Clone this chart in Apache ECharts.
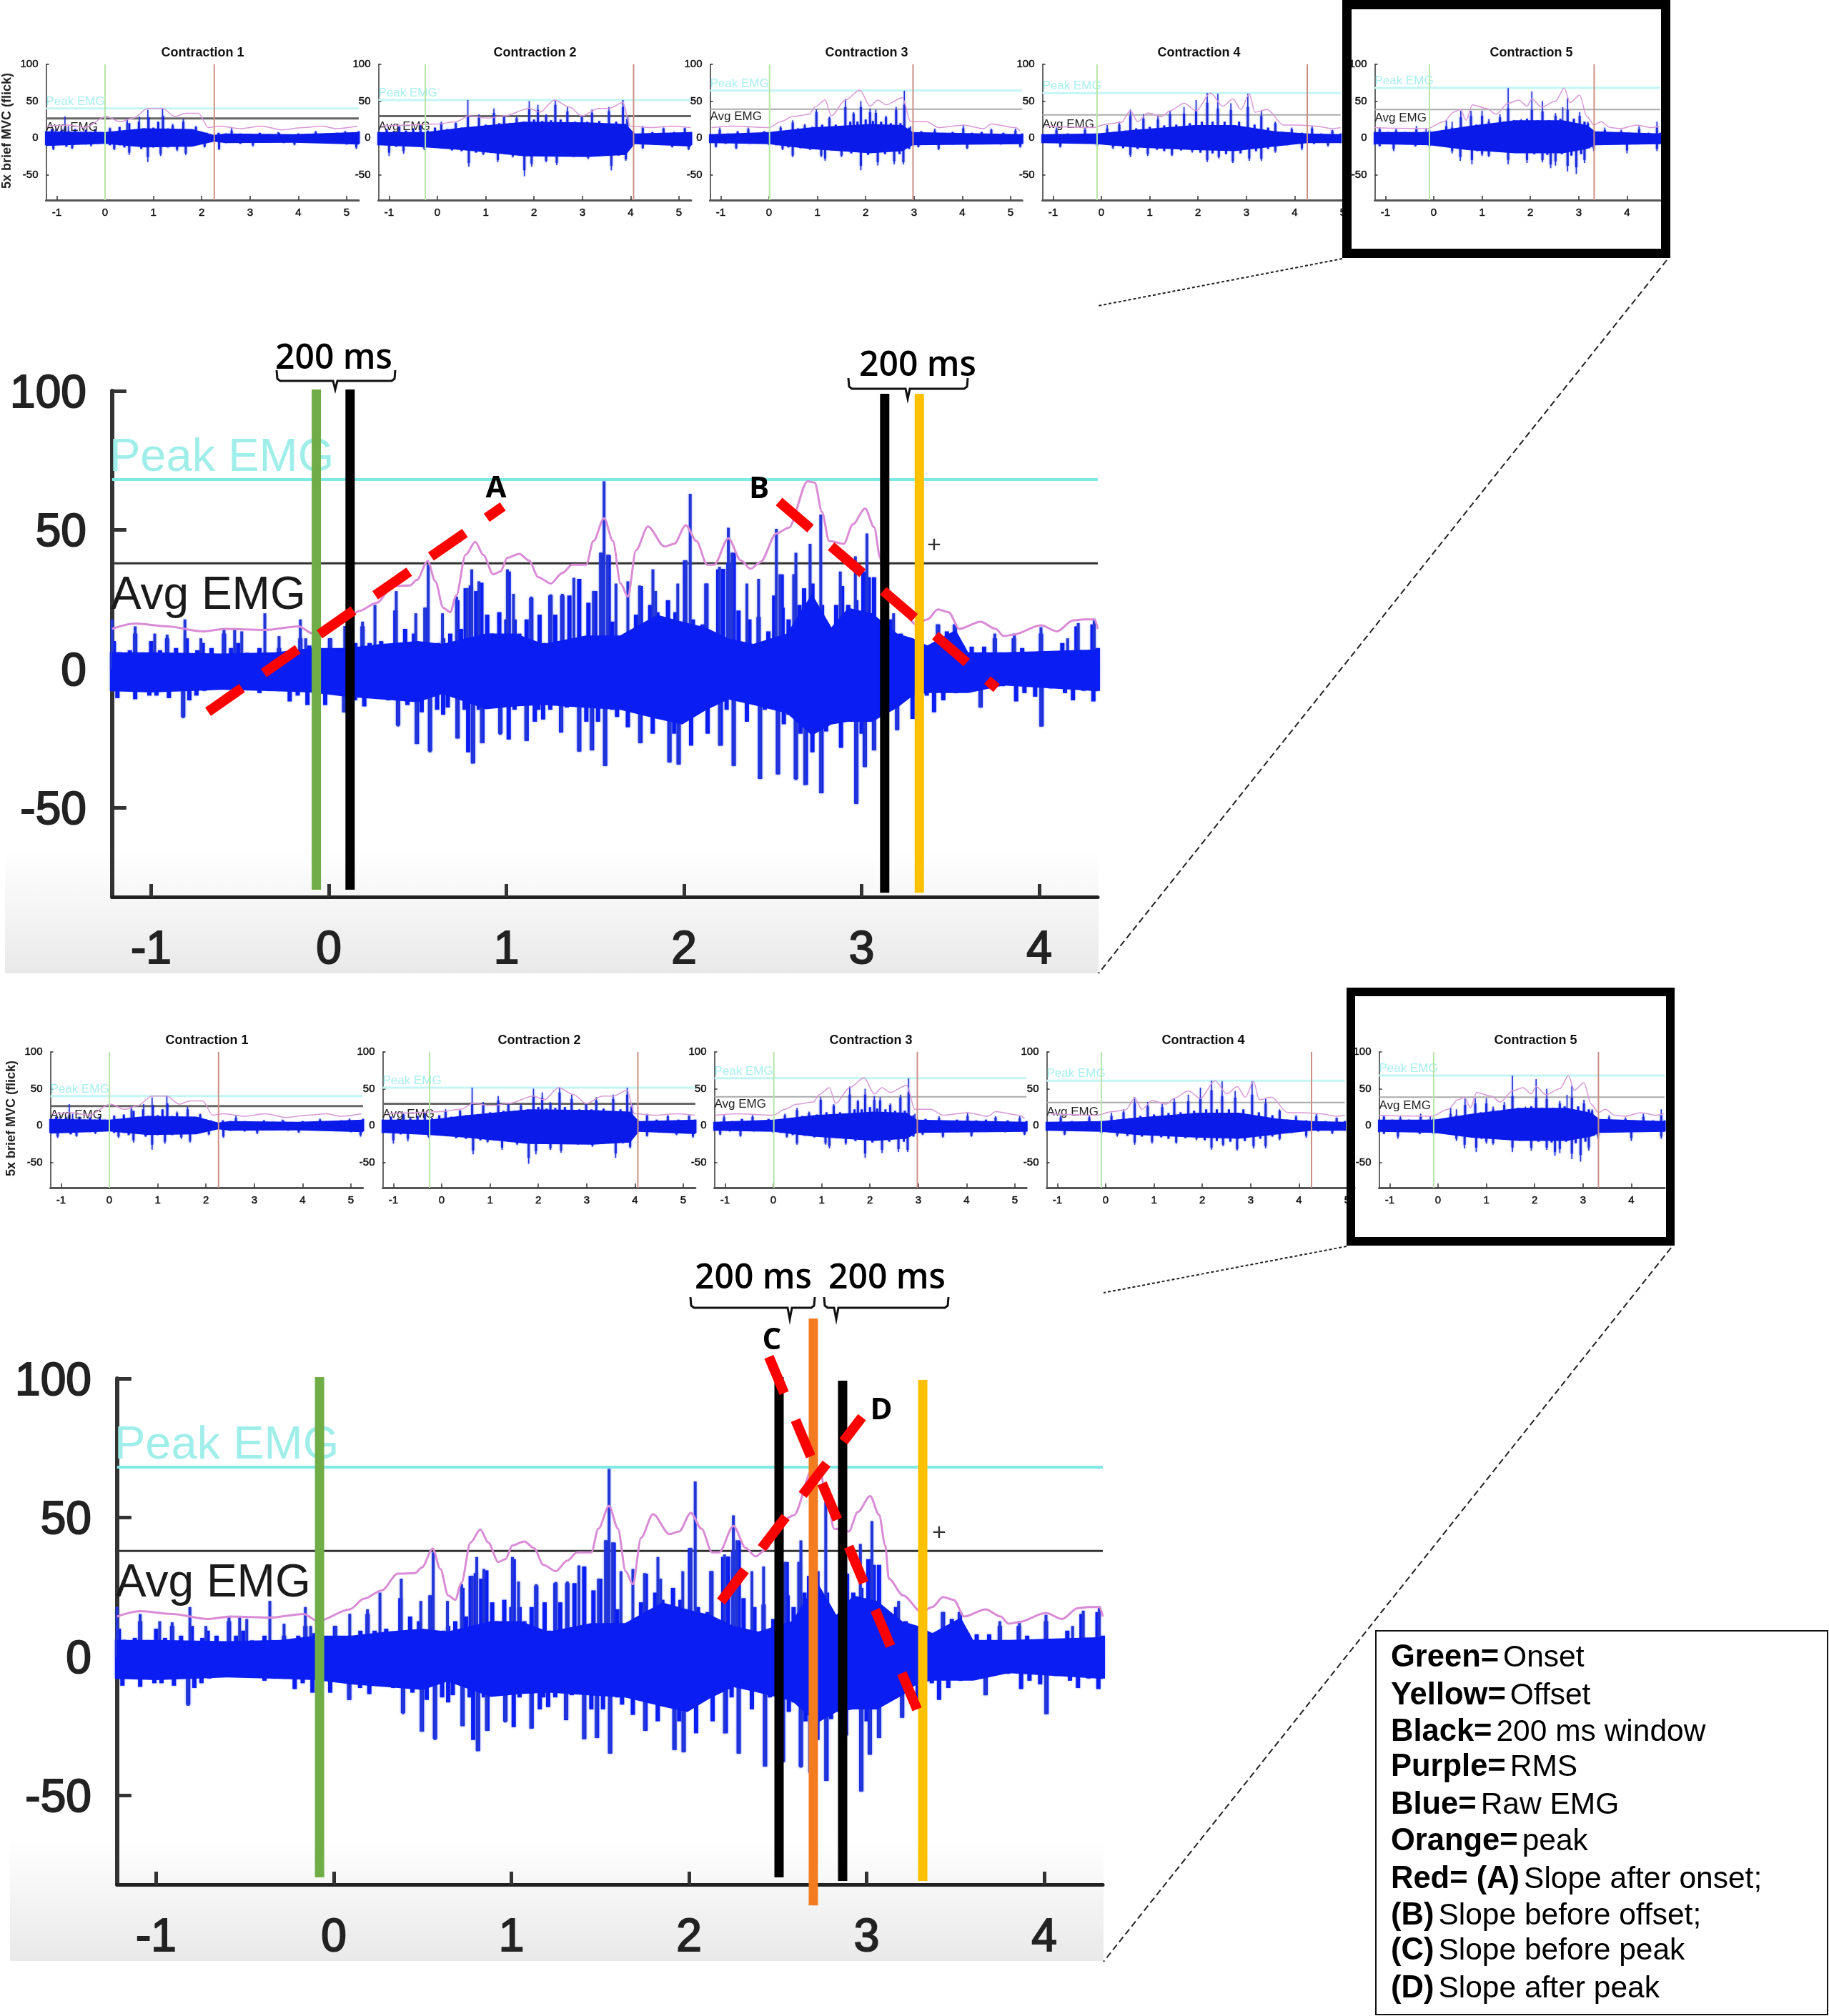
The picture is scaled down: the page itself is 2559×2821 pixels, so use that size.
<!DOCTYPE html>
<html lang="en">
<head>
<meta charset="UTF-8">
<title>Contraction EMG</title>
<script src="https://cdn.jsdelivr.net/npm/echarts@6/dist/echarts.min.js"></script>
<style>
  html, body { margin: 0; padding: 0; background: #fff; }
  #chart { width: 2559px; height: 2821px; }
</style>
</head>
<body>
<div id="chart"></div>
<script>
// ---- data: [seconds, %MVC] ----
var contractionTitles = ['Contraction 1', 'Contraction 2', 'Contraction 3', 'Contraction 4', 'Contraction 5'];
var xTicksSmall = [[-1,0,1,2,3,4,5],[-1,0,1,2,3,4,5],[-1,0,1,2,3,4,5],[-1,0,1,2,3,4,5],[-1,0,1,2,3,4]];
var xTicksBig = [-1,0,1,2,3,4];
var yTicks = [100,50,0,-50];
var smallXMax = [5.25,5.25,5.24,5.15,4.69];
var smallOnset = [0,-0.25,0.01,-0.09,-0.09];
var smallOffset = [2.26,4.06,2.98,4.26,3.32];
var smallPeak = [40,51.5,64.4,61,68];
var smallAvg = [26.5,29.5,39,31.4,38.5];

// Core = solid band [t, top, bottom]; Top / Bot / Up / Lo = bursts of the raw trace; Rms = purple line
var c1Core = [[-1.22,9,-11],[0,8,-8],[0.8,13,-13],[1.8,12,-12],[2.25,4,-5],[2.5,6,-7],[3.9,5,-6.5],[5.25,8,-9]];
var c1Top = [[-1.22,9],[-1.1,12],[-1,8],[-0.9,11],[-0.83,14],[-0.75,9],[-0.62,12],[-0.5,8],[-0.4,11],[-0.3,8],[-0.2,12],[-0.1,8],[0,6],[0.1,13],[0.2,8],[0.3,15],[0.4,10],[0.5,20],[0.6,11],[0.7,22],[0.8,13],[0.9,28],[1,14],[1.1,22],[1.2,30],[1.3,13],[1.4,17],[1.5,11],[1.62,22],[1.75,10],[1.88,15],[2,8],[2.1,7],[2.25,3],[2.35,7],[2.5,6],[2.62,10],[2.8,6],[3,5],[3.2,7],[3.4,5],[3.6,7],[3.8,4],[4,6],[4.2,5],[4.36,8],[4.6,5],[4.8,7],[4.97,8],[5.1,6],[5.25,9]];
var c1Bot = [[-1.22,-10],[-1.07,-15],[-0.95,-9],[-0.8,-12],[-0.68,-14],[-0.55,-8],[-0.4,-9],[-0.29,-10],[-0.15,-8],[0,-6],[0.1,-10],[0.19,-15],[0.3,-10],[0.4,-13],[0.5,-20],[0.6,-11],[0.75,-15],[0.885,-26],[1,-13],[1.15,-22],[1.3,-13],[1.49,-16],[1.67,-21],[1.8,-11],[2.06,-12],[2.2,-5],[2.36,-15],[2.5,-7],[2.8,-8],[3.06,-10],[3.4,-6],[3.7,-7],[3.92,-9],[4.3,-6],[4.7,-7],[5,-9],[5.2,-13],[5.25,-8]];
var c1Up = [[-1.02,12.6],[-0.83,29],[-0.76,16],[0.1,14],[0.45,22],[0.46,26],[0.71,29],[0.885,38],[1.19,40],[1.4,19],[1.62,25.6],[1.88,16],[2.62,14],[3.58,8],[4.36,9.4],[4.97,9.4]];
var c1Lo = [[-1.07,-16.5],[-0.68,-15],[-0.29,-11.6],[0.19,-16.5],[0.5,-23],[0.885,-32.7],[1.15,-24.6],[1.49,-18],[1.67,-23],[2.06,-13],[2.36,-16.5],[3.06,-11.6],[3.92,-10],[5.2,-15]];
var c1Rms = [[-1.2,16],[-0.76,17.5],[-0.42,14],[0.02,29],[0.32,22],[0.58,27],[0.885,40],[1.19,40],[1.45,29],[1.67,33.6],[1.93,33.6],[2.14,14],[2.36,16],[2.8,12.6],[3.23,16],[3.66,11],[4.1,14],[4.49,16],[4.79,12.6],[5.22,16]];

var c2Core = [[-1.22,8,-10],[-0.25,8,-13],[0.51,14,-16.5],[1.82,22,-25],[3.12,21,-26],[3.9,19,-23],[4.08,6,-8.5],[5.25,8,-11.6]];
var c2Top = [[-1.22,8],[-1.05,12],[-0.9,9],[-0.79,15],[-0.65,10],[-0.5,13],[-0.35,16],[-0.2,10],[-0.05,14],[0.08,20],[0.2,12],[0.38,20],[0.5,14],[0.63,30],[0.75,15],[0.86,28],[1,18],[1.17,34],[1.28,20],[1.38,28],[1.5,20],[1.64,27],[1.78,22],[1.9,40],[2,25],[2.08,38],[2.17,23],[2.25,30],[2.35,24],[2.44,45],[2.55,25],[2.69,36],[2.85,22],[2.99,28],[3.1,22],[3.2,34],[3.35,23],[3.55,36],[3.7,22],[3.84,42],[3.93,26],[4.05,8],[4.25,14],[4.45,8],[4.68,13],[4.9,8],[5.12,13],[5.25,8]];
var c2Bot = [[-1.22,-10],[-1,-20],[-0.85,-12],[-0.7,-18],[-0.5,-11],[-0.27,-15],[-0.1,-11],[0.1,-14],[0.3,-17],[0.5,-18],[0.65,-34],[0.8,-20],[0.95,-22],[1.1,-20],[1.25,-30],[1.4,-22],[1.56,-25],[1.7,-24],[1.8,-44],[1.88,-24],[1.95,-35],[2.1,-24],[2.25,-31],[2.35,-24],[2.47,-34],[2.65,-23],[2.82,-25],[3,-22],[3.12,-27],[3.35,-24],[3.6,-38],[3.75,-24],[3.9,-29],[4.05,-9],[4.25,-14],[4.5,-9],[4.86,-12],[5.05,-9],[5.2,-15],[5.25,-10]];
var c2Up = [[-0.79,16],[-0.35,17.5],[0.08,22],[0.38,21],[0.63,51.5],[0.86,32],[1.17,40],[1.38,30],[1.64,29],[1.9,50],[2.08,45],[2.25,32],[2.44,51.5],[2.69,42],[2.99,30],[3.2,38.5],[3.55,42],[3.84,51.5],[3.94,29],[4.25,16],[4.68,14],[5.12,14]];
var c2Lo = [[-1,-24.6],[-0.7,-21.5],[-0.27,-16.5],[0.65,-39],[0.95,-23],[1.25,-33],[1.56,-26.5],[1.8,-52],[1.95,-39],[2.25,-33],[2.47,-37],[2.82,-26],[3.12,-29],[3.6,-44],[3.9,-31],[4.25,-15],[4.86,-13],[5.2,-16.5]];
var c2Rms = [[-1.13,16],[-0.61,17.5],[0,19],[0.39,22],[0.65,30],[1.04,27],[1.38,30],[1.9,40],[2.12,35],[2.42,51.5],[2.73,42],[2.99,30],[3.34,40],[3.55,40],[3.84,48],[3.99,16],[4.42,14],[4.86,16],[5.24,14]];

var c3Core = [[-1.22,5,-7],[0,8,-8.5],[0.83,14,-15],[2.09,19,-21],[2.76,17.5,-18],[2.97,8,-10],[5.24,5,-8.5]];
var c3Top = [[-1.22,5],[-1.02,11],[-0.85,6],[-0.65,9],[-0.43,12],[-0.25,6],[-0.1,9],[0,6],[0.12,8],[0.24,14],[0.36,10],[0.49,21],[0.6,13],[0.74,17],[0.9,15],[0.98,35],[1.1,18],[1.25,27],[1.38,18],[1.58,42],[1.68,22],[1.75,33],[1.83,22],[1.9,42],[2,25],[2.09,35],[2.15,23],[2.21,34],[2.32,22],[2.42,28],[2.52,20],[2.63,38],[2.72,20],[2.8,45],[2.9,14],[2.98,7],[3.15,9],[3.43,10],[3.6,6],[3.8,8],[4.02,13],[4.2,7],[4.4,8],[4.6,11],[4.85,7],[5.1,10],[5.24,6]];
var c3Bot = [[-1.22,-7],[-1.1,-12],[-0.9,-8],[-0.68,-14],[-0.4,-8],[0,-9],[0.15,-10],[0.28,-15],[0.4,-13],[0.49,-24],[0.65,-14],[0.85,-16],[1.08,-24],[1.16,-28],[1.3,-17],[1.5,-24],[1.7,-21],[1.9,-38],[2.05,-23],[2.25,-33],[2.4,-22],[2.59,-32],[2.7,-22],[2.78,-33],[2.9,-15],[2.98,-10],[3.09,-12],[3.3,-8],[3.51,-15],[3.8,-9],[4.1,-14],[4.4,-8],[4.8,-9],[5.2,-12],[5.24,-8]];
var c3Up = [[-1.02,14],[-0.43,14],[0.24,16],[0.49,24],[0.74,19],[0.98,38.5],[1.25,29],[1.58,53],[1.75,35],[1.9,50],[2.09,40],[2.21,38.5],[2.42,30],[2.63,42],[2.8,64],[2.93,16],[3.43,12.6],[4.02,17.5],[4.6,12.6],[5.1,12.6]];
var c3Lo = [[-1.1,-13],[-0.68,-15],[0,-10],[0.28,-16.5],[0.49,-26],[1.08,-26],[1.16,-31],[1.5,-26],[1.9,-44],[2.25,-37.5],[2.59,-36],[2.78,-36],[3.09,-13],[3.51,-16.5],[4.1,-15],[5.2,-13]];
var c3Rms = [[-1.19,14],[-0.77,16],[0,14],[0.24,22],[0.49,29],[0.83,32],[0.95,42],[1.16,51.5],[1.29,30],[1.58,51.5],[1.88,65],[2.09,43],[2.25,51.5],[2.42,45],[2.76,54.7],[2.93,22],[3.26,22],[3.51,14],[4.02,17.5],[4.44,12.6],[4.6,19],[5.1,14],[5.2,9]];

var c4Core = [[-1.22,5,-7],[-0.09,6,-8.5],[0.66,11,-13],[1.92,17.5,-16.5],[2.76,17.5,-18],[3.6,9,-11.6],[4.27,6,-7],[4.95,5,-7]];
var c4Top = [[-1.22,5],[-0.93,11],[-0.7,6],[-0.34,11],[-0.1,6],[0.12,13],[0.25,8],[0.37,18],[0.5,10],[0.6,30],[0.72,13],[0.87,26],[1,15],[1.17,25],[1.3,17],[1.42,32],[1.55,18],[1.71,33],[1.83,20],[1.96,37],[2.08,22],[2.19,48],[2.3,22],[2.41,40],[2.55,22],[2.68,38],[2.85,22],[3.03,42],[3.17,18],[3.31,30],[3.45,14],[3.6,20],[3.75,8],[3.94,12],[4.15,7],[4.36,13],[4.55,6],[4.78,10],[4.95,6]];
var c4Bot = [[-1.22,-7],[-0.85,-12],[-0.6,-7],[-0.09,-10],[0.1,-9],[0.24,-13],[0.45,-14],[0.6,-23],[0.75,-15],[0.96,-22],[1.15,-16],[1.3,-18],[1.46,-23],[1.65,-17],[1.88,-18],[2.05,-20],[2.19,-30],[2.3,-21],[2.43,-26],[2.58,-22],[2.72,-32],[2.88,-21],[3.06,-28],[3.2,-18],[3.31,-28],[3.45,-15],[3.6,-18],[3.85,-10],[4.15,-14],[4.4,-8],[4.69,-10],[4.95,-7]];
var c4Up = [[-0.93,14],[-0.34,14],[0.12,17.5],[0.37,22],[0.6,38.5],[0.87,32],[1.17,30],[1.42,37],[1.71,42],[1.96,51.5],[2.19,61],[2.41,60],[2.68,47],[3.03,60],[3.31,37],[3.6,22],[3.94,14],[4.36,16],[4.78,11]];
var c4Lo = [[-0.85,-13],[-0.09,-11.6],[0.24,-15],[0.6,-26],[0.96,-24.6],[1.46,-24.6],[1.88,-20],[2.19,-32.7],[2.43,-28],[2.72,-34],[3.06,-31],[3.31,-31],[3.6,-20],[4.15,-16.5],[4.69,-11.6]];
var c4Rms = [[-1.14,16],[-0.18,14],[0.12,19],[0.41,21],[0.6,37],[0.75,22],[0.96,34],[1.25,29],[1.42,37],[1.71,47],[1.96,37],[2.26,61],[2.51,43],[2.72,53],[2.89,38.5],[3.06,60],[3.18,35],[3.43,38.5],[3.77,17.5],[4.1,17.5],[4.44,16],[4.78,12.6],[4.95,14]];

var c5Core = [[-1.22,8,-8.5],[-0.09,8,-10],[0.7,16,-16.5],[1.69,24,-21],[2.67,24,-21],[3.17,17.5,-15],[3.34,9,-10],[4.69,6,-8.5]];
var c5Top = [[-1.22,8],[-1.12,12],[-0.95,8],[-0.78,10],[-0.6,8],[-0.36,12],[-0.2,8],[-0.09,10],[0.05,8],[0.26,16],[0.38,14],[0.56,28],[0.67,15],[0.77,30],[0.88,18],[1,30],[1.08,18],[1.14,22],[1.25,20],[1.37,28],[1.46,22],[1.54,40],[1.66,24],[1.81,24],[1.93,26],[2.03,38],[2.15,24],[2.25,36],[2.38,24],[2.52,30],[2.62,26],[2.77,38],[2.9,26],[3.02,30],[3.12,22],[3.19,20],[3.3,9],[3.54,11],[3.7,7],[3.88,9],[4.05,7],[4.25,12],[4.45,7],[4.62,14],[4.69,7]];
var c5Bot = [[-1.22,-9],[-1.12,-11],[-0.83,-15],[-0.6,-8],[-0.38,-11],[-0.2,-8],[-0.09,-11],[0.1,-9],[0.38,-18],[0.48,-14],[0.55,-26],[0.68,-15],[0.79,-30],[0.9,-18],[1,-22],[1.14,-24],[1.3,-18],[1.54,-30],[1.7,-20],[1.93,-30],[2.08,-22],[2.25,-30],[2.35,-23],[2.42,-36],[2.52,-32],[2.65,-22],[2.77,-38],[2.85,-24],[2.95,-40],[3.05,-22],[3.12,-30],[3.22,-14],[3.31,-14],[3.45,-9],[3.7,-8],[4,-17],[4.2,-8],[4.62,-15],[4.69,-8]];
var c5Up = [[-1.12,14],[-0.78,12.6],[-0.36,16],[-0.16,12.6],[0.26,24],[0.38,22],[0.56,37],[0.77,37],[1,37],[1.14,25.6],[1.37,32],[1.54,67.6],[1.81,25.6],[2.03,63],[2.25,50],[2.52,33.6],[2.67,41.7],[2.77,54.7],[3.02,35],[3.19,22],[3.54,14],[3.88,11],[4.25,16],[4.62,22]];
var c5Lo = [[-1.12,-11.6],[-0.83,-18],[-0.38,-11.6],[-0.09,-13],[0.38,-21],[0.55,-31],[0.79,-36],[1,-24.6],[1.14,-26],[1.54,-36],[1.93,-34],[2.25,-33],[2.42,-41],[2.52,-37.5],[2.77,-45.6],[2.95,-49],[3.12,-34],[3.31,-18],[4,-21],[4.62,-18]];
var c5Rms = [[-1.22,14],[-0.78,13],[-0.14,12.6],[0.21,22],[0.41,35],[0.55,38.5],[0.67,24],[0.8,45],[1.1,40],[1.29,32],[1.54,47],[1.76,51.5],[1.93,43],[2.03,53],[2.23,42],[2.52,50],[2.7,67.6],[2.82,48],[3.02,58],[3.17,29],[3.32,17.5],[3.46,22],[3.66,14],[3.86,12.6],[4.2,17.5],[4.5,14],[4.67,16]];

// zoomed contraction 5
var bigPeak = 68.1, bigAvg = 38;
var bigCore = [[-1.22,6,-8],[-1,6,-8.5],[-0.6,5.5,-7.5],[-0.3,6,-8],[-0.1,7.5,-8.5],[0.1,7.5,-10],[0.3,9,-11],[0.5,10,-12],[0.64,9,-9],[0.885,12.7,-14.5],[1.05,12.7,-13.5],[1.21,9,-13],[1.45,12,-14],[1.64,12,-14.7],[1.85,19.5,-18],[1.99,17,-20],[2.12,15,-15],[2.25,11,-11],[2.39,9,-13],[2.58,12.7,-16],[2.72,27,-24],[2.83,15,-20],[2.925,22,-19],[3.06,20,-19],[3.2,12.7,-14],[3.29,11,-9.6],[3.37,8.4,-8.7],[3.53,14,-8.7],[3.6,6,-8.7],[3.8,6,-6],[4.33,7,-8]];
var bigTop = [[-1.22,6],[-1.21,10],[-1.18,6],[-1.12,6.7],[-1.09,12.7],[-1.05,5.8],[-1,10],[-0.95,6.7],[-0.91,11],[-0.86,7.5],[-0.8,11],[-0.74,6.7],[-0.71,9.3],[-0.66,7.5],[-0.59,12.7],[-0.55,7.5],[-0.51,9.3],[-0.46,5.8],[-0.39,7.5],[-0.35,5.8],[-0.28,7.5],[-0.2,7.5],[-0.16,11],[-0.11,8.4],[-0.07,5.8],[0.007,11],[0.05,6.7],[0.15,9.3],[0.19,15.3],[0.23,9.3],[0.295,10],[0.375,21],[0.43,14.4],[0.48,12.7],[0.55,22],[0.617,9.3],
  [0.644,11],[0.684,12.7],[0.724,24.7],[0.745,14.4],[0.771,29],[0.8,30],[0.83,28],[0.859,31],[0.892,19.5],[0.919,12.7],[0.96,20.4],[1,17.8],[1.013,35],[1.046,17.8],[1.073,12.7],[1.114,17.8],[1.14,25.5],[1.187,19.5],[1.214,9.3],[1.248,26.4],[1.275,19.5],[1.315,26.4],[1.355,26.4],[1.41,32.4],[1.44,11.8],[1.462,23.8],[1.5,28],[1.536,41.8],[1.576,41],[1.596,17],[1.636,11.8],[1.703,12.7],[1.73,19.5],[1.757,29.8],[1.81,23],[1.85,20.4],[1.91,24.7],[1.952,20.4],[1.985,17],[2.006,39],[2.05,17.8],[2.105,16],[2.126,30.7],[2.16,12.7],[2.193,35.8],[2.22,36],[2.25,38],[2.28,41.8],[2.307,21],[2.368,17.8],[2.388,8.4],[2.42,18.7],[2.475,13.5],[2.508,26.4],[2.55,34],
  [2.555,22],[2.589,17.8],[2.622,34],[2.65,23],[2.676,29],[2.723,30.7],[2.777,23],[2.817,14.4],[2.857,23],[2.89,29.8],[2.925,23],[2.97,24.7],[3.01,35],[3.04,33],[3.07,33],[3.09,14.4],[3.166,17.8],[3.22,12.7],[3.27,11],[3.367,8.4],[3.43,16],[3.48,13.5],[3.525,16],[3.568,8.4],[3.62,8],[3.69,8],[3.75,11],[3.783,5.8],[3.857,11],[3.904,7.5],[4.01,12.7],[4.05,5.8],[4.13,9.3],[4.21,15.3],[4.24,6.7],[4.3,16],[4.33,7.5]];
var bigBot = [[-1.22,-8],[-1.19,-10.5],[-1.15,-6.2],[-1.09,-10.9],[-1.05,-5.3],[-1.01,-9.6],[-0.97,-9.6],[-0.94,-5.3],[-0.9,-10.5],[-0.85,-7.9],[-0.82,-17.3],[-0.785,-11.3],[-0.745,-9.6],[-0.7,-7.9],[-0.575,-6.2],[-0.48,-5.3],[-0.39,-8.7],[-0.335,-7.9],[-0.28,-7.9],[-0.22,-11.7],[-0.175,-9.6],[-0.12,-13],[-0.02,-13],[0.027,-7.9],[0.087,-15.6],[0.148,-11.3],[0.2,-13.5],[0.27,-10.5],[0.335,-11.3],[0.39,-20.3],[0.443,-13],[0.496,-27],[0.523,-15.6],[0.57,-29.6],[0.61,-14.7],[0.644,-16.5],
  [0.67,-13.9],[0.725,-25],[0.765,-14.7],[0.785,-30],[0.812,-34],[0.845,-14.7],[0.865,-26.7],[0.9,-13.9],[0.926,-11.3],[0.966,-23.3],[1.013,-25.4],[1.046,-14.7],[1.114,-25.9],[1.16,-19],[1.18,-14.7],[1.207,-18.2],[1.247,-14.7],[1.308,-22.9],[1.34,-13.9],[1.41,-29.7],[1.45,-19],[1.482,-29.3],[1.516,-19],[1.556,-34.9],[1.596,-14.7],[1.623,-17.3],[1.657,-9.6],[1.684,-21],[1.717,-14.7],[1.755,-26.7],[1.777,-16.5],[1.824,-23.3],[1.864,-15.6],[1.918,-33.6],[1.945,-23.3],[1.97,-34.4],[2.04,-27.6],[2.08,-14.7],[2.133,-23.3],[2.16,-13],[2.207,-27.6],[2.24,-14.7],[2.28,-34.9],[2.314,-9.6],[2.354,-19],[2.388,-11.3],[2.428,-39.6],[2.455,-14.7],[2.529,-37.9],[2.562,-19.9],
  [2.589,-16.5],[2.63,-39.6],[2.656,-23.3],[2.686,-41.7],[2.723,-30],[2.774,-44.7],[2.8,-22.5],[2.884,-28.4],[2.925,-17.3],[2.97,-48.5],[3,-23.3],[3.018,-35.3],[3.045,-19],[3.07,-29.3],[3.1,-14.7],[3.166,-13],[3.2,-22],[3.245,-10.5],[3.287,-18],[3.367,-9.6],[3.408,-15.6],[3.46,-11.3],[3.53,-8.7],[3.61,-8.3],[3.67,-13.9],[3.7,-6.2],[3.796,-6.2],[3.87,-11.7],[3.917,-8.7],[3.977,-10],[4.013,-20.7],[4.064,-7],[4.145,-8.7],[4.19,-11.3],[4.25,-7.9],[4.305,-11.7],[4.33,-7.9]];
var bigUp = [[-1.22,17.8],[-1.09,15.3],[-0.98,12.7],[-0.91,12.3],[-0.81,17.8],[-0.72,11],[-0.59,14.4],[-0.53,14.4],[-0.49,13.5],[-0.36,20],[-0.28,11.8],[-0.16,17.8],[-0.13,11],[0.01,11],[0.09,15.4],[0.19,17],[0.26,23],[0.38,28],[0.49,20],[0.54,22],[0.56,37.5],[0.64,20],
  [0.72,26],[0.78,29],[0.805,35.8],[0.845,31.5],[1.006,35.8],[1.04,27],[1.14,26],[1.25,26.8],[1.315,27],[1.38,32.8],[1.49,28],[1.53,41.8],[1.55,67.5],[1.57,41],[1.617,30.7],[1.684,31.5],[1.75,30],[1.825,35.8],[1.84,28],[1.965,30.7],[2.01,39],[2.035,63],[2.126,30.7],[2.2,36.7],[2.25,50.8],[2.27,41.8],[2.354,30.7],[2.42,32.4],[2.52,50.4],[2.54,34],
  [2.62,34],[2.63,41.8],[2.71,45],[2.77,55.5],[2.88,35],[2.965,40.5],[3.03,48.7],[3.18,20],[3.43,16],[3.525,16],[3.75,12.7],[3.86,12.7],[4.01,15],[4.16,11],[4.22,16.5],[4.31,18]];
var bigLo = [[-0.82,-17.7],[0.087,-15.6],[0.39,-20.7],[0.496,-27],[0.57,-30],[0.725,-25],[0.81,-34],[0.86,-26.7],[0.965,-23.7],[1.11,-25.9],[1.31,-22.4],[1.41,-29.7],[1.48,-29.3],[1.555,-34.9],[1.75,-26.7],[1.92,-33.6],[1.97,-34.4],[2.2,-27.6],[2.28,-34.9],[2.43,-39.6],[2.53,-37.9],[2.63,-40],[2.68,-41.8],[2.77,-44.7],[2.97,-48.6],[3.02,-35.3],[3.07,-29.3],[3.2,-22],[3.67,-13.9],[4.01,-20.7]];
var bigRms = [[-1.22,14.4],[-1.09,16.3],[-0.91,15.3],[-0.71,13.5],[-0.58,14.4],[-0.36,14],[-0.17,15.3],[-0.09,12.7],[0.09,17],[0.17,20.8],[0.27,23.8],[0.36,29.8],[0.456,30],[0.496,32],[0.557,38.8],[0.6,31.5],[0.644,22],[0.684,20.4],[0.718,26.4],[0.77,41],[0.825,45.7],[0.87,41],[0.926,34],[0.966,35],[1.006,40],[1.073,41.4],[1.127,39],[1.18,33],[1.25,30.7],[1.315,34.5],[1.37,37.5],[1.45,37.5],[1.49,46],[1.55,54.2],[1.6,46],[1.643,30.7],[1.684,26],[1.73,42.7],[1.797,51.2],[1.89,44],[1.945,45],[2.01,51.7],[2.07,46],[2.13,37.5],[2.17,37.5],[2.25,47],[2.32,39],[2.375,36],[2.43,38.4],[2.52,48.7],[2.59,50.8],[2.696,67.5],[2.736,67],[2.777,56.4],[2.817,46],[2.9,45],[2.95,52],[3.02,57.7],[3.07,51],[3.105,40],[3.125,28],[3.205,22],[3.31,16],[3.37,17.8],[3.43,21.4],[3.49,20.4],[3.55,14.4],[3.67,17],[3.755,14.4],[3.8,11.8],[3.85,12.3],[4.01,15.7],[4.1,13.5],[4.19,17.4],[4.25,17.8],[4.31,17.8],[4.33,14.4]];

// vertical markers: [t, top, bottom]
var topGreen = [-0.07,100.5,-79.4], topBlackA = [0.12,100.5,-79.4], topBlackB = [3.13,99,-80.5], topYellow = [3.325,99,-80.5];
var lowGreen = [-0.08,100.5,-79.4], lowBlackA = [2.507,100.5,-79.4], lowOrange = [2.70,121.6,-89.5], lowBlackB = [2.865,99.2,-80.7], lowYellow = [3.316,99.5,-80.7];
// red slope lines
var slopeA = [[-0.68,-15.4],[0.98,58.4]];
var slopeB = [[2.535,60.2],[3.76,-6.9]];
var slopeC = [[2.45,107.8],[3.284,-19]];
var slopeD = [[2.18,19.8],[2.974,86.1]];

var legendLines = [
  ['Green=','Onset'],['Yellow=','Offset'],['Black=','200 ms window'],['Purple=','RMS'],['Blue=','Raw EMG'],
  ['Orange=','peak'],['Red= (A)','Slope after onset;'],['(B)','Slope before offset;'],['(C)','Slope before peak'],['(D)','Slope after peak']
];
var legendY = [2320,2373,2424,2473,2526,2577,2630,2681,2730,2783];

var core = [c1Core,c2Core,c3Core,c4Core,c5Core];
var tops = [c1Top,c2Top,c3Top,c4Top,c5Top];
var bots = [c1Bot,c2Bot,c3Bot,c4Bot,c5Bot];
var ups = [c1Up,c2Up,c3Up,c4Up,c5Up];
var los = [c1Lo,c2Lo,c3Lo,c4Lo,c5Lo];
var rms = [c1Rms,c2Rms,c3Rms,c4Rms,c5Rms];

// ---- layout ----
var SANS = '"Liberation Sans", Arial, sans-serif';
var OPEN = '"Open Sans", sans-serif';
var smallZero = [147,612,1076,1541,2006];
var smallUnit = 67.6;
var peakLabelY = [142,130,117,120,113];
var avgLabelY = [178,177,163,174,165];
var grids = [], xAxes = [], yAxes = [], series = [], gfx = [];

function text(x, y, s, size, color, extra) {
  var st = { text: s, fontSize: size, fontFamily: SANS, fill: color, textAlign: 'left', textVerticalAlign: 'middle' };
  for (var k in (extra || {})) st[k] = extra[k];
  gfx.push({ type: 'text', x: x, y: y, z: 3, silent: true, style: st, rotation: (extra && extra.rot) || 0 });
}
function addAxes(left, top, width, height, xmax, ymin, xt, big) {
  grids.push({ left: left, top: top, width: width, height: height });
  var labelStyle = { fontFamily: SANS, fontSize: big ? 64 : 15, color: big ? '#222' : '#111',
    textBorderColor: big ? '#222' : '#111', textBorderWidth: big ? 2 : 0.5 };
  var xLabel = Object.assign({ customValues: xt, margin: big ? 43 : 10 }, labelStyle);
  var yLabel = Object.assign({ customValues: yTicks, margin: big ? 36 : 11, verticalAlign: big ? 'top' : 'middle', lineHeight: big ? 10 : 15 }, labelStyle);
  xAxes.push({ type: 'value', gridIndex: grids.length - 1, min: -1.22, max: xmax, position: 'bottom', splitLine: { show: false },
    axisLine: { onZero: false, lineStyle: { color: big ? '#222' : '#555', width: big ? 5 : 3 } },
    axisTick: { customValues: xt, inside: true, length: big ? 18 : 6, lineStyle: { color: '#333', width: big ? 5 : 1.5 } }, axisLabel: xLabel });
  yAxes.push({ type: 'value', gridIndex: grids.length - 1, min: ymin, max: 100, position: 'left', splitLine: { show: false },
    axisLine: { onZero: false, lineStyle: { color: '#333', width: big ? 6 : 1.5 } },
    axisTick: { customValues: yTicks, inside: true, length: big ? 20 : 4, lineStyle: { color: '#333', width: big ? 5 : 1.5 } }, axisLabel: yLabel });
  return grids.length - 1;
}
function lineSeries(g, pts, color, width, z, dash, smooth) {
  series.push({ type: 'line', xAxisIndex: g, yAxisIndex: g, data: pts, showSymbol: false, clip: false, z: z, silent: true,
    smooth: smooth || false, smoothMonotone: smooth ? 'x' : undefined,
    lineStyle: { color: color, width: width, type: dash || 'solid', cap: 'butt' } });
}
function emgSeries(g, band, bursts, spikes, burstW, spikeW, coreColor, spikeColor) {
  series.push({ type: 'custom', xAxisIndex: g, yAxisIndex: g, z: 3, silent: true, data: [[0, 0]], encode: { x: 0, y: 1 },
    renderItem: function (params, api) {
      var pts = [], i;
      for (i = 0; i < band.length; i++) pts.push(api.coord([band[i][0], band[i][1]]));
      for (i = band.length - 1; i >= 0; i--) pts.push(api.coord([band[i][0], band[i][2]]));
      return { type: 'polygon', shape: { points: pts }, style: { fill: coreColor } };
    } });
  function spike(width, color) {
    return function (params, api) {
      var a = api.coord([api.value(0), api.value(1)]), b = api.coord([api.value(0), 0]);
      return { type: 'line', shape: { x1: a[0], y1: a[1], x2: b[0], y2: b[1] },
        style: { stroke: color, lineWidth: width, shadowBlur: 3, shadowColor: 'rgba(60,80,230,0.5)' } };
    };
  }
  series.push({ type: 'custom', xAxisIndex: g, yAxisIndex: g, z: 2, silent: true, data: bursts, encode: { x: 0, y: 1 }, renderItem: spike(burstW, coreColor) });
  series.push({ type: 'custom', xAxisIndex: g, yAxisIndex: g, z: 2, silent: true, data: spikes, encode: { x: 0, y: 1 }, renderItem: spike(spikeW, spikeColor) });
}
function vLine(g, m, color) { lineSeries(g, [[m[0], m[1]], [m[0], m[2]]], color, 13, 6); }
function brace(x0, x1, tip, y, h, tipH) {
  gfx.push({ type: 'polyline', z: 8, silent: true, shape: { points: [[x0, y], [x0 + 1, y + h - 3], [x0 + 5, y + h], [tip - 3, y + h], [tip, y + h + tipH], [tip + 3, y + h], [x1 - 5, y + h], [x1 - 1, y + h - 3], [x1, y]] },
    style: { stroke: '#111', lineWidth: 3, fill: null } });
}

function smallRow(dx, dy) {
  for (var i = 0; i < 5; i++) {
    var x0 = smallZero[i] + dx;
    var g = addAxes(x0 - 1.22 * smallUnit, 90 + dy, (smallXMax[i] + 1.22) * smallUnit, 190, smallXMax[i], -84.5, xTicksSmall[i], false);
    var xm = i === 3 ? 4.95 : smallXMax[i];
    emgSeries(g, core[i], tops[i].concat(bots[i]), ups[i].concat(los[i]), 3, 1.6, '#0a1ae8', '#2030d4');
    lineSeries(g, [[-1.22, smallPeak[i]], [xm, smallPeak[i]]], '#c4f5f5', 3, 1);
    lineSeries(g, [[-1.22, smallAvg[i]], [xm, smallAvg[i]]], i < 2 ? '#666' : '#aaa', i < 2 ? 3 : 2, 1);
    lineSeries(g, rms[i], '#d998d8', 1.5, 4, null, 0.3);
    lineSeries(g, [[smallOnset[i], 100], [smallOnset[i], -84.5]], '#b6e6a6', 2, 5);
    lineSeries(g, [[smallOffset[i], 100], [smallOffset[i], -84.5]], '#cc8f86', 2, 5);
    text(x0 + 2.02 * smallUnit, 74 + dy, contractionTitles[i], 18, '#111', { textAlign: 'center', fontWeight: 'bold' });
    text(x0 - 1.22 * smallUnit, peakLabelY[i] + dy, 'Peak EMG', 17, '#a8efef');
    text(x0 - 1.22 * smallUnit, avgLabelY[i] + dy, 'Avg EMG', 17, '#222');
  }
  text(10 + dx, 183 + dy, '5x brief MVC (flick)', 18, '#222', { textAlign: 'center', fontWeight: 'bold', rot: Math.PI / 2 });
}
function bigPanel(dx, dy) {
  var x0 = 460 + dx, unit = 248.5;
  gfx.push({ type: 'rect', z: 0, silent: true, shape: { x: 7 + dx, y: 1190 + dy, width: 1530, height: 172 },
    style: { fill: { type: 'linear', x: 0, y: 0, x2: 0, y2: 1, colorStops: [{ offset: 0, color: '#ffffff' }, { offset: 1, color: '#e9e9e9' }] } } });
  var g = addAxes(x0 - 1.22 * unit, 547 + dy, 5.55 * unit, 708, 4.33, -82, xTicksBig, true);
  emgSeries(g, bigCore, bigTop.concat(bigBot), bigUp.concat(bigLo), 6, 4, '#0a1df2', '#2236d8');
  lineSeries(g, [[-1.22, bigPeak], [4.33, bigPeak]], '#7fe9e6', 4, 1);
  lineSeries(g, [[-1.22, bigAvg], [4.33, bigAvg]], '#333', 3, 1);
  lineSeries(g, bigRms, '#d98bd6', 3, 4, null, 0.3);
  text(153 + dx, 641 + dy, 'Peak EMG', 65, '#9feeea', { shadowBlur: 8, shadowColor: '#9feeea' });
  text(155 + dx, 834 + dy, 'Avg EMG', 64, '#1a1a1a');
  text(1307 + dx, 764 + dy, '+', 34, '#333', { textAlign: 'center' });
  return g;
}

smallRow(0, 0);
smallRow(6, 1382);

var gTop = bigPanel(0, 0);
vLine(gTop, topGreen, '#70ad47');
vLine(gTop, topBlackA, '#000');
vLine(gTop, topBlackB, '#000');
vLine(gTop, topYellow, '#ffc000');
lineSeries(gTop, slopeA, '#ff0000', 14, 7, [58, 37]);
lineSeries(gTop, slopeB, '#ff0000', 14, 7, [58, 38]);

var gLow = bigPanel(7, 1382);
vLine(gLow, lowGreen, '#70ad47');
vLine(gLow, lowBlackA, '#000');
vLine(gLow, lowBlackB, '#000');
vLine(gLow, lowOrange, '#f47c20');
vLine(gLow, lowYellow, '#ffc000');
lineSeries(gLow, slopeC, '#ff0000', 14, 7, [55, 41]);
lineSeries(gLow, slopeD, '#ff0000', 14, 7, [55, 39]);

// annotations
var bold = { fontFamily: OPEN, fontWeight: 600, textAlign: 'center' };
text(467, 502, '200 ms', 48, '#000', bold);
text(1284, 512, '200 ms', 48, '#000', bold);
text(1054, 1789, '200 ms', 48, '#000', bold);
text(1241, 1789, '200 ms', 48, '#000', bold);
brace(387, 553, 469, 518, 15, 12);
brace(1187, 1354, 1270, 529, 15, 14);
brace(966, 1140, 1105, 1815, 15, 16);
brace(1153, 1327, 1170, 1815, 15, 16);
var letter = { fontFamily: OPEN, fontWeight: 700, textAlign: 'center' };
text(694, 684, 'A', 42, '#000', letter);
text(1062, 685, 'B', 42, '#000', letter);
text(1080, 1876, 'C', 42, '#000', letter);
text(1233, 1974, 'D', 42, '#000', letter);

// zoom frames and connector lines
[[0, 0, 13], [6, 1382, 12]].forEach(function (f) {
  var t = f[2];
  gfx.push({ type: 'rect', z: 20, silent: true, shape: { x: 1878 + f[0] + t / 2, y: f[1] + t / 2, width: 459 - t, height: 361 - t },
    style: { fill: 'transparent', stroke: '#000', lineWidth: t } });
});
function conn(x1, y1, x2, y2, dash) {
  gfx.push({ type: 'line', z: 9, silent: true, shape: { x1: x1, y1: y1, x2: x2, y2: y2 }, style: { stroke: '#222', lineWidth: 2, lineDash: dash } });
}
conn(1878, 362, 1536, 428, [4, 3]);
conn(2332, 364, 1537, 1362, [9, 5]);
conn(1884, 1744, 1544, 1809, [4, 3]);
conn(2338, 1746, 1544, 2745, [9, 5]);

// legend box
gfx.push({ type: 'rect', z: 10, silent: true, shape: { x: 1925, y: 2282, width: 632, height: 537 }, style: { fill: '#fff', stroke: '#111', lineWidth: 2 } });
legendLines.forEach(function (l, i) {
  gfx.push({ type: 'text', x: 1946, y: legendY[i], z: 11, silent: true, style: {
    text: '{b|' + l[0] + '}{n|' + l[1] + '}', textAlign: 'left', textVerticalAlign: 'middle',
    rich: { b: { fontFamily: SANS, fontSize: 43.5, fontWeight: 'bold', fill: '#000' },
      n: { fontFamily: SANS, fontSize: 42.5, fill: '#000', padding: [0, 0, 0, 6] } } } });
});

var chart = echarts.init(document.getElementById('chart'), null, { renderer: 'canvas' });
chart.setOption({ animation: false, backgroundColor: '#fff', grid: grids, xAxis: xAxes, yAxis: yAxes, series: series, graphic: { elements: gfx } });
</script>
</body>
</html>
